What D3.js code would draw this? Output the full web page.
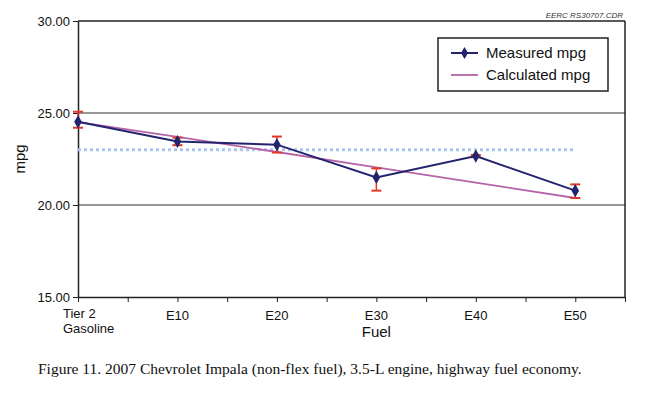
<!DOCTYPE html>
<html>
<head>
<meta charset="utf-8">
<script src="https://cdn.jsdelivr.net/npm/d3@7"></script>
<style>
  body { margin: 0; background: #fff; }
  text { font-family: "Liberation Sans", Arial, sans-serif; }
</style>
</head>
<body>
<div id="chart"></div>
<script>
// data
const fuels = ['Tier 2 Gasoline', 'E10', 'E20', 'E30', 'E40', 'E50'];
const measured = [24.52, 23.45, 23.28, 21.50, 22.66, 20.78];
const err_hi = [25.07, 23.66, 23.72, 21.99, 22.72, 21.12];
const err_lo = [24.20, 23.25, 22.85, 20.78, 22.60, 20.38];
const calculated = [24.50, 23.70, 22.88, 22.05, 21.22, 20.38];
const reference_mpg = 23.0;
const y_ticks = [15, 20, 25, 30];

const width = 650;
const height = 399;
const p_left = 78, p_right = 625, p_top = 21, p_bottom = 297;

const svg = d3.select('#chart').append('svg')
    .attr('width', width)
    .attr('height', height);

// scales
const x_scale = d3.scaleLinear().domain([0, fuels.length - 0.5]).range([p_left, p_right]);
const y_scale = d3.scaleLinear().domain([15, 30]).range([p_bottom, p_top]);

// gridlines at 20 and 25
svg.selectAll('.grid')
    .data(y_ticks.filter(d => d > 15 && d < 30))
    .enter()
    .append('line')
    .attr('x1', p_left).attr('x2', p_right)
    .attr('y1', d => y_scale(d)).attr('y2', d => y_scale(d))
    .attr('stroke', '#333').attr('stroke-width', 1);

// plot frame: top and right
svg.append('line').attr('x1', p_left).attr('x2', p_right).attr('y1', p_top).attr('y2', p_top)
    .attr('stroke', '#222').attr('stroke-width', 1.5);
svg.append('line').attr('x1', p_right).attr('x2', p_right).attr('y1', p_top).attr('y2', p_bottom)
    .attr('stroke', '#222').attr('stroke-width', 1.5);

// y axis
const y_axis = svg.append('g')
    .attr('transform', `translate(${p_left}, 0)`)
    .call(d3.axisLeft(y_scale).tickValues(y_ticks).tickFormat(d3.format('.2f')).tickSize(5).tickSizeOuter(0));
y_axis.select('.domain').attr('stroke', '#222').attr('stroke-width', 1.5);
y_axis.selectAll('line').attr('stroke', '#222');
y_axis.selectAll('text').attr('font-size', 13).attr('fill', '#111');

// x axis
const x_tick_vals = d3.range(0, fuels.length, 0.5);
const x_axis = svg.append('g')
    .attr('transform', `translate(0, ${p_bottom})`)
    .call(d3.axisBottom(x_scale).tickValues(x_tick_vals).tickFormat('').tickSize(5).tickSizeOuter(0));
x_axis.select('.domain').attr('stroke', '#222').attr('stroke-width', 1.5);
x_axis.selectAll('line').attr('stroke', '#222');

// x labels
fuels.forEach((f, i) => {
    if (i === 0) {
        const t = svg.append('text')
            .attr('x', x_scale(i) - 15).attr('y', 318)
            .attr('font-size', 13).attr('fill', '#111');
        t.append('tspan').attr('x', x_scale(i) - 15).text('Tier 2');
        t.append('tspan').attr('x', x_scale(i) - 15).attr('dy', 15).text('Gasoline');
    } else {
        svg.append('text')
            .attr('x', x_scale(i)).attr('y', 320)
            .attr('text-anchor', 'middle')
            .attr('font-size', 13).attr('fill', '#111')
            .text(f);
    }
});

// axis titles
svg.append('text').attr('x', x_scale(3)).attr('y', 337)
    .attr('text-anchor', 'middle').attr('font-size', 15).attr('fill', '#111').text('Fuel');
svg.append('g').attr('transform', `translate(25, ${y_scale(22.5)})`)
    .append('text').attr('transform', 'rotate(-90)').attr('text-anchor', 'middle')
    .attr('font-size', 15).attr('fill', '#111').text('mpg');

// dotted reference line
svg.append('line')
    .attr('x1', x_scale(0)).attr('x2', x_scale(fuels.length - 1))
    .attr('y1', y_scale(reference_mpg)).attr('y2', y_scale(reference_mpg))
    .attr('stroke', '#a9c5f2').attr('stroke-width', 3)
    .attr('stroke-dasharray', '3,3');

// calculated line
const line = d3.line().x((d, i) => x_scale(i)).y(d => y_scale(d));
svg.append('path').datum(calculated)
    .attr('d', line)
    .attr('fill', 'none').attr('stroke', '#b565a7').attr('stroke-width', 1.8);

// error bars
const err = svg.append('g');
fuels.forEach((f, i) => {
    const cx = x_scale(i);
    err.append('line').attr('x1', cx).attr('x2', cx)
        .attr('y1', y_scale(err_hi[i])).attr('y2', y_scale(err_lo[i]))
        .attr('stroke', '#e2382a').attr('stroke-width', 1.5);
    [err_hi[i], err_lo[i]].forEach(v => {
        err.append('line').attr('x1', cx - 5).attr('x2', cx + 5)
            .attr('y1', y_scale(v)).attr('y2', y_scale(v))
            .attr('stroke', '#e2382a').attr('stroke-width', 2);
    });
});

// measured line + diamonds
svg.append('path').datum(measured)
    .attr('d', line)
    .attr('fill', 'none').attr('stroke', '#24236e').attr('stroke-width', 2);

svg.selectAll('.pt')
    .data(measured)
    .enter()
    .append('path')
    .attr('class', 'pt')
    .attr('d', d3.symbol(d3.symbolDiamond, 50))
    .attr('transform', (d, i) => `translate(${x_scale(i)}, ${y_scale(d)})`)
    .attr('fill', '#24236e');

// legend
const legend = svg.append('g');
legend.append('rect')
    .attr('x', 438).attr('y', 38).attr('width', 170).attr('height', 53)
    .attr('fill', '#fff').attr('stroke', '#222').attr('stroke-width', 1.5);
legend.append('line').attr('x1', 451).attr('x2', 478).attr('y1', 53).attr('y2', 53)
    .attr('stroke', '#24236e').attr('stroke-width', 2);
legend.append('path').attr('d', d3.symbol(d3.symbolDiamond, 42))
    .attr('transform', 'translate(464.5, 53)').attr('fill', '#24236e');
legend.append('line').attr('x1', 451).attr('x2', 478).attr('y1', 75).attr('y2', 75)
    .attr('stroke', '#b565a7').attr('stroke-width', 1.8);
legend.append('text').attr('x', 486).attr('y', 58).attr('font-size', 15).attr('fill', '#111').text('Measured mpg');
legend.append('text').attr('x', 486).attr('y', 80).attr('font-size', 15).attr('fill', '#111').text('Calculated mpg');

// file stamp
svg.append('text').attr('x', 623).attr('y', 18).attr('text-anchor', 'end')
    .attr('font-size', 8).attr('font-style', 'italic').attr('fill', '#333')
    .text('EERC RS30707.CDR');

// caption
svg.append('text').attr('x', 38).attr('y', 374)
    .style('font-family', '"Liberation Serif", "Times New Roman", serif')
    .attr('font-size', 15.5).attr('fill', '#111')
    .text('Figure 11. 2007 Chevrolet Impala (non-flex fuel), 3.5-L engine, highway fuel economy.');
</script>
</body>
</html>
